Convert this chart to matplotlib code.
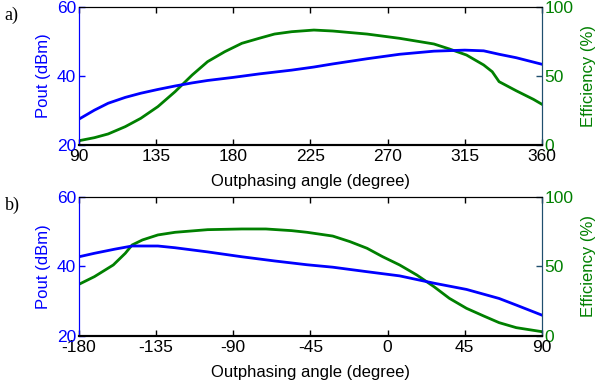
import matplotlib
matplotlib.use("Agg")
import matplotlib.pyplot as plt
import numpy as np

plt.rcParams['font.family'] = ['Liberation Sans', 'DejaVu Sans']

# ---- panel a) data ----
a_pout_angle = [90, 99, 107, 117, 126, 136, 146, 156, 165, 180, 195, 214, 227, 238, 258, 277, 297, 315, 326, 335, 345, 360]
a_pout = [27.5, 30.1, 32.1, 33.8, 35.0, 36.1, 37.1, 38.0, 38.7, 39.6, 40.6, 41.7, 42.6, 43.5, 45.0, 46.3, 47.2, 47.5, 47.3, 46.3, 45.3, 43.4]
a_eff_angle = [90, 99, 107, 117, 126, 136, 146, 156, 165, 175, 185, 195, 204, 214, 227, 238, 258, 277, 297, 306, 316, 326, 331, 335, 345, 355, 360]
a_eff = [3.1, 5.3, 8.0, 13.3, 19.3, 27.8, 38.6, 50.7, 60.4, 67.6, 73.7, 77.3, 80.4, 82.1, 83.3, 82.6, 80.4, 77.3, 73.2, 69.6, 65.2, 58.0, 53.1, 45.9, 39.3, 33.1, 29.5]

# ---- panel b) data ----
b_pout_angle = [-180, -171, -159, -149, -134, -124, -105, -85, -66, -47, -32, -12, 7, 27, 46, 65, 75, 90]
b_pout = [42.8, 43.8, 45.0, 45.9, 45.9, 45.4, 44.2, 42.8, 41.6, 40.5, 39.8, 38.5, 37.3, 35.2, 33.4, 30.8, 28.9, 26.0]
b_eff_angle = [-180, -171, -160, -153, -149, -143, -134, -124, -105, -85, -71, -56, -47, -32, -22, -12, -3, 7, 17, 27, 36, 46, 56, 65, 75, 90]
b_eff = [37.2, 42.7, 51.1, 59.5, 65.5, 69.1, 72.7, 74.6, 76.5, 77.0, 77.0, 75.8, 74.6, 71.9, 67.9, 63.1, 57.1, 51.1, 43.9, 35.5, 27.1, 19.9, 14.4, 9.6, 6.0, 3.1]

a_xticks = [90, 135, 180, 225, 270, 315, 360]
b_xticks = [-180, -135, -90, -45, 0, 45, 90]
pout_ticks = [20, 40, 60]
eff_ticks = [0, 50, 100]

BLUE = '#0000ff'
GREEN = '#008000'
RSPINE = '#1f4e6e'

fig = plt.figure(figsize=(5.97, 3.85), dpi=100)

panels = [
    ([0.1323, 0.6234, 0.7755, 0.3584], a_pout_angle, a_pout, a_eff_angle, a_eff, a_xticks, (90, 360), 'a)', 0.961),
    ([0.1323, 0.1273, 0.7755, 0.3610], b_pout_angle, b_pout, b_eff_angle, b_eff, b_xticks, (-180, 90), 'b)', 0.467),
]

tfs = 12.5
lfs = 12
for rect, xp, yp, xe, ye, xt, xl, lab, laby in panels:
    ax = fig.add_axes(rect)
    ax2 = ax.twinx()
    ax.plot(xp, yp, color=BLUE, lw=2)
    ax2.plot(xe, ye, color=GREEN, lw=2)
    ax.set_xlim(*xl)
    ax.set_ylim(20, 60)
    ax2.set_ylim(0, 100)
    ax.set_xticks(xt)
    ax.set_xticklabels([str(v) for v in xt], fontsize=tfs)
    ax.set_yticks(pout_ticks)
    ax.set_yticklabels([str(v) for v in pout_ticks], fontsize=tfs, color=BLUE)
    ax2.set_yticks(eff_ticks)
    ax2.set_yticklabels([str(v) for v in eff_ticks], fontsize=tfs, color=GREEN)
    ax.tick_params(axis='x', direction='in', length=4, width=1, top=True, pad=3)
    ax.tick_params(axis='y', direction='in', length=4, width=1, colors=BLUE, pad=2)
    ax2.tick_params(axis='y', direction='in', length=4, width=1, colors=RSPINE, pad=2)
    for t in ax2.get_yticklabels():
        t.set_color(GREEN)
    ax.set_xlabel('Outphasing angle (degree)', fontsize=lfs, labelpad=7)
    ax.set_ylabel('Pout (dBm)', fontsize=lfs, color=BLUE, labelpad=4)
    ax2.set_ylabel('Efficiency (%)', fontsize=lfs, color=GREEN, labelpad=5)
    for a in (ax, ax2):
        a.spines['top'].set_color('black')
        a.spines['bottom'].set_color('black')
        a.spines['bottom'].set_linewidth(1.5)
        a.spines['left'].set_color(BLUE)
        a.spines['right'].set_color(RSPINE)
    ax.set_zorder(ax2.get_zorder() + 1)
    ax.patch.set_visible(False)
    fig.text(0.008, laby, lab, fontsize=13, family='Liberation Serif', va='center', ha='left')

fig.savefig('out.png', dpi=100)
